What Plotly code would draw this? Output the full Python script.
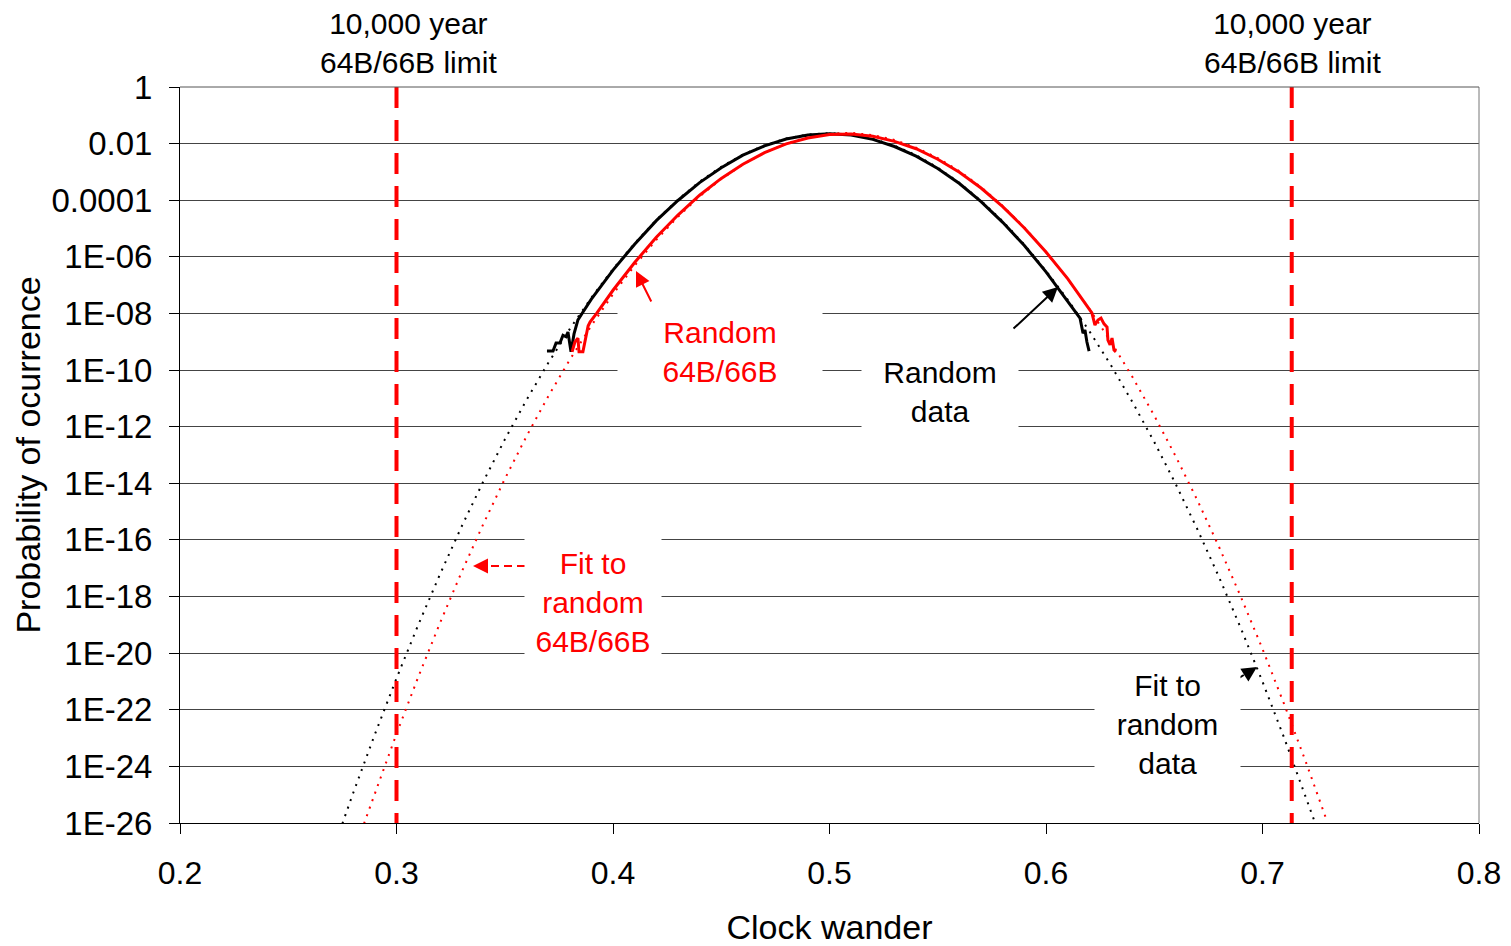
import plotly.graph_objects as go

# ---- measured probability of occurrence vs clock wander ----
random_data_x = [0.3695, 0.3723, 0.3737, 0.3755, 0.3769, 0.3783, 0.3792, 0.3806, 0.3820, 0.3838,
                 0.3857, 0.39, 0.40, 0.41, 0.42, 0.43, 0.44, 0.45, 0.46, 0.47, 0.48, 0.49, 0.50,
                 0.51, 0.52, 0.53, 0.54, 0.55, 0.56, 0.57, 0.58, 0.59, 0.60, 0.61, 0.6143,
                 0.6157, 0.6171, 0.6180, 0.6189, 0.6199]
random_data_p = [4.7e-10, 4.7e-10, 9.1e-10, 9.1e-10, 1.7e-9, 1.5e-9, 2.2e-9, 4.4e-10, 1.9e-9, 5.9e-9,
                 1.0e-8, 3.2e-8, 3.4e-7, 2.8e-6, 1.9e-5, 9.8e-5, 4.2e-4, 1.4e-3, 3.9e-3, 8.3e-3,
                 1.45e-2, 2.0e-2, 2.24e-2, 2.0e-2, 1.41e-2, 7.9e-3, 3.6e-3, 1.32e-3, 3.9e-4, 8.9e-5,
                 1.66e-5, 2.5e-6, 2.95e-7, 2.8e-8, 1.05e-8, 6.9e-9, 2.0e-9, 2.6e-9, 9.8e-10, 4.7e-10]

random_6466_x = [0.3811, 0.3824, 0.3838, 0.3843, 0.3861, 0.3875, 0.3885, 0.3894, 0.3926, 0.40,
                 0.41, 0.42, 0.43, 0.44, 0.45, 0.46, 0.47, 0.48, 0.49, 0.50, 0.51, 0.52, 0.53,
                 0.54, 0.55, 0.56, 0.57, 0.58, 0.59, 0.60, 0.61, 0.6212, 0.6226, 0.6240, 0.6254,
                 0.6268, 0.6282, 0.6286, 0.6296, 0.6305, 0.6314, 0.6323]
random_6466_p = [4.4e-10, 9.8e-10, 1.35e-9, 4.4e-10, 4.4e-10, 1.7e-9, 3.6e-9, 5.0e-9, 1.05e-8, 6.6e-8,
                 6.3e-7, 4.9e-6, 3.0e-5, 1.5e-4, 5.9e-4, 1.86e-3, 4.8e-3, 9.8e-3, 1.58e-2, 2.1e-2,
                 2.2e-2, 1.82e-2, 1.2e-2, 6.6e-3, 2.8e-3, 9.8e-4, 2.7e-4, 5.9e-5, 1.05e-5, 1.48e-6,
                 1.7e-7, 1.05e-8, 3.9e-9, 5.9e-9, 6.9e-9, 4.3e-9, 3.3e-9, 1.15e-9, 7.8e-10, 1.35e-9,
                 5.1e-10, 4.4e-10]

# ---- fitted curves ----
fit_data_x = [0.275, 0.28, 0.29, 0.30, 0.31, 0.32, 0.33, 0.34, 0.35, 0.36, 0.37, 0.38, 0.39, 0.40,
              0.41, 0.42, 0.43, 0.44, 0.45, 0.46, 0.47, 0.48, 0.49, 0.50, 0.51, 0.52, 0.53, 0.54,
              0.55, 0.56, 0.57, 0.58, 0.59, 0.60, 0.61, 0.62, 0.63, 0.64, 0.65, 0.66, 0.67, 0.68,
              0.69, 0.70, 0.71, 0.72, 0.7245]
fit_data_p = [9.5e-27, 1.15e-25, 1.35e-23, 1.29e-21, 9.8e-20, 5.9e-18, 2.9e-16, 1.12e-14, 3.5e-13,
              8.7e-12, 1.74e-10, 2.8e-9, 3.6e-8, 3.7e-7, 3.0e-6, 2.0e-5, 1.05e-4, 4.5e-4, 1.51e-3,
              4.1e-3, 8.7e-3, 1.51e-2, 2.1e-2, 2.34e-2, 2.1e-2, 1.48e-2, 8.5e-3, 3.9e-3, 1.41e-3,
              4.1e-4, 9.5e-5, 1.82e-5, 2.7e-6, 3.2e-7, 3.1e-8, 2.4e-9, 1.48e-10, 7.2e-12, 2.9e-13,
              9.1e-15, 2.3e-16, 4.7e-18, 7.6e-20, 9.8e-22, 1.02e-23, 8.5e-26, 9.1e-27]

fit_6466_x = [0.285, 0.29, 0.30, 0.31, 0.32, 0.33, 0.34, 0.35, 0.36, 0.37, 0.38, 0.39, 0.40, 0.41,
              0.42, 0.43, 0.44, 0.45, 0.46, 0.47, 0.48, 0.49, 0.50, 0.51, 0.52, 0.53, 0.54, 0.55,
              0.56, 0.57, 0.58, 0.59, 0.60, 0.61, 0.62, 0.63, 0.64, 0.65, 0.66, 0.67, 0.68, 0.69,
              0.70, 0.71, 0.72, 0.73]
fit_6466_p = [9.5e-27, 1.15e-25, 1.41e-23, 1.41e-21, 1.12e-19, 7.1e-18, 3.5e-16, 1.41e-14, 4.5e-13,
              1.15e-11, 2.3e-10, 3.7e-9, 4.8e-8, 4.9e-7, 4.0e-6, 2.6e-5, 1.35e-4, 5.6e-4, 1.82e-3,
              4.8e-3, 1.0e-2, 1.7e-2, 2.24e-2, 2.4e-2, 2.0e-2, 1.35e-2, 7.2e-3, 3.1e-3, 1.07e-3,
              2.9e-4, 6.3e-5, 1.1e-5, 1.48e-6, 1.66e-7, 1.45e-8, 1.0e-9, 5.6e-11, 2.45e-12, 8.7e-14,
              2.45e-15, 5.5e-17, 9.8e-19, 1.41e-20, 1.58e-22, 1.45e-24, 1.05e-26]

# ---- 10,000 year limits ----
limit_x = [0.3, 0.7135]
limit_label = "10,000 year<br>64B/66B limit"

# ---- axis ticks ----
x_ticks = [0.2, 0.3, 0.4, 0.5, 0.6, 0.7, 0.8]
y_ticks = [1, 1e-2, 1e-4, 1e-6, 1e-8, 1e-10, 1e-12, 1e-14, 1e-16, 1e-18, 1e-20, 1e-22, 1e-24, 1e-26]
y_tick_text = ["1", "0.01", "0.0001", "1E-06", "1E-08", "1E-10", "1E-12", "1E-14", "1E-16",
               "1E-18", "1E-20", "1E-22", "1E-24", "1E-26"]

FONT = "Liberation Sans, Arial, sans-serif"
RED = "#ff0000"
W, H = 1511, 946
ML, MR, MT, MB = 180, 32, 87, 123
PW, PH = W - ML - MR, H - MT - MB


def px(xpix):
    return (xpix - ML) / PW


def py(ypix):
    return (H - MB - ypix) / PH


fig = go.Figure()

fig.add_trace(go.Scatter(x=fit_data_x, y=fit_data_p, mode="lines",
                         line=dict(color="black", width=2, dash="2px,6px")))
fig.add_trace(go.Scatter(x=fit_6466_x, y=fit_6466_p, mode="lines",
                         line=dict(color=RED, width=2, dash="2px,6px")))
fig.add_trace(go.Scatter(x=random_data_x, y=random_data_p, mode="lines",
                         line=dict(color="black", width=3)))
fig.add_trace(go.Scatter(x=random_6466_x, y=random_6466_p, mode="lines",
                         line=dict(color=RED, width=3)))
for lx in limit_x:
    fig.add_trace(go.Scatter(x=[lx, lx], y=[y_ticks[0], y_ticks[-1]], mode="lines",
                             line=dict(color=RED, width=4, dash="21px,12px")))

annotations = []
# limit captions above the plot
for lx, xpix in zip(limit_x, [408, 1292]):
    annotations.append(dict(xref="paper", yref="paper", x=px(xpix), y=py(43),
                            text=limit_label, showarrow=False, xanchor="center",
                            yanchor="middle", font=dict(size=30, color="black", family=FONT)))


def boxed(text, cx, cy, w, h, color):
    return dict(xref="paper", yref="paper", x=px(cx), y=py(cy), text=text, showarrow=False,
                xanchor="center", yanchor="middle", width=w, height=h, bgcolor="white",
                borderpad=0, align="center", valign="middle",
                font=dict(size=30, color=color, family=FONT))


annotations.append(boxed("Random<br>64B/66B", 720, 352, 204, 90, RED))
annotations.append(boxed("Random<br>data", 940, 392, 156, 88, "black"))
annotations.append(boxed("Fit to<br>random<br>64B/66B", 593, 602, 136, 138, RED))
annotations.append(boxed("Fit to<br>random<br>data", 1167, 724, 145, 124, "black"))


def arrow(hx, hy, ax, ay, color):
    return dict(xref="paper", yref="paper", x=px(hx), y=py(hy), ax=ax, ay=ay, text="",
                showarrow=True, arrowhead=2, arrowsize=1.5, arrowwidth=2, arrowcolor=color)


annotations.append(arrow(636, 271, 16, 32, RED))
annotations.append(arrow(1058, 287, -46, 43, "black"))
annotations.append(arrow(473, 566, 13, 0, RED))
annotations.append(arrow(1257, 667, -11, 7, "black"))

shapes = [
    # dashed arrow shafts
    dict(type="line", xref="paper", yref="paper", x0=px(525), y0=py(566), x1=px(484), y1=py(566),
         line=dict(color=RED, width=2, dash="8px,5px")),
    dict(type="line", xref="paper", yref="paper", x0=px(1215), y0=py(693), x1=px(1247), y1=py(673),
         line=dict(color="black", width=2, dash="8px,5px")),
    # right and top frame
    dict(type="line", xref="paper", yref="paper", x0=1, x1=1, y0=0, y1=1,
         line=dict(color="#777777", width=1)),
    dict(type="line", xref="paper", yref="paper", x0=0, x1=1, y0=1, y1=1,
         line=dict(color="#555555", width=1)),
]

fig.update_layout(
    width=W, height=H,
    margin=dict(l=ML, r=MR, t=MT, b=MB, autoexpand=False),
    plot_bgcolor="white", paper_bgcolor="white",
    showlegend=False,
    font=dict(family=FONT, color="black"),
    annotations=annotations,
    shapes=shapes,
    xaxis=dict(range=[0.2, 0.8], tickvals=x_ticks, ticktext=[str(v) for v in x_ticks],
               automargin=False,
               showgrid=False, zeroline=False, showline=True, linecolor="black", linewidth=1,
               ticks="outside", ticklen=10, tickcolor="black", tickwidth=1,
               tickfont=dict(size=32, family=FONT), ticklabelstandoff=12,
               title=dict(text="Clock wander", font=dict(size=34, family=FONT), standoff=26)),
    yaxis=dict(type="log", range=[-26, 0], tickvals=y_ticks, ticktext=y_tick_text,
               automargin=False,
               showgrid=True, gridcolor="#444444", gridwidth=1, zeroline=False,
               showline=True, linecolor="black", linewidth=1,
               ticks="outside", ticklen=10, tickcolor="black", tickwidth=1,
               tickfont=dict(size=33, family=FONT), ticklabelstandoff=10,
               title=dict(text="Probability of ocurrence", font=dict(size=34, family=FONT),
                          standoff=0)),
)

fig.write_html("out.html")
